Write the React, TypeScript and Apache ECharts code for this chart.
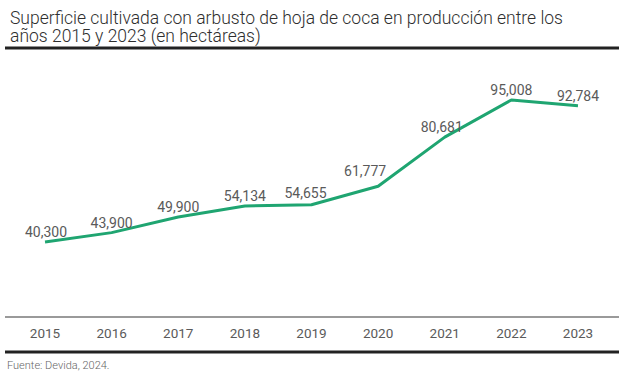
import React, { useEffect, useRef } from "react";
import * as echarts from "echarts";

const years = ["2015", "2016", "2017", "2018", "2019", "2020", "2021", "2022", "2023"];
const hectares = [40300, 43900, 49900, 54134, 54655, 61777, 80681, 95008, 92784];
const titleText = "Superficie cultivada con arbusto de hoja de coca en producción entre los\naños 2015 y 2023 (en hectáreas)";
const sourceText = "Fuente: Devida, 2024.";
// label nudges (px) so values sit clear of the line, as in the reference
const labelNudges: [number, number][] = [
  [1, 0], [0, 0], [0, 0], [0, 0], [-6, -2], [-13, -5], [-3, 0], [0, 0], [0, 0],
];

const FONT = "Roboto, 'Noto Sans', sans-serif";

export default function App() {
  const ref = useRef<HTMLDivElement>(null);
  useEffect(() => {
    if (!ref.current) return;
    const chart = echarts.init(ref.current, undefined, { renderer: "svg" });
    chart.setOption({
      animation: false,
      backgroundColor: "#ffffff",
      title: {
        text: titleText,
        left: 5,
        top: 4,
        textStyle: { fontFamily: FONT, fontSize: 17.5, fontWeight: 300, color: "#2e2e2e", lineHeight: 18 },
      },
      grid: { left: 11.7, right: 11.7, top: 87, bottom: 54.4, containLabel: false, outerBoundsMode: "none" },
      xAxis: {
        type: "category",
        data: years,
        boundaryGap: true,
        axisLine: { show: false },
        axisTick: { show: false },
        axisLabel: { margin: 5, fontFamily: FONT, fontSize: 13.5, fontWeight: "normal", color: "#5a5a5a" },
      },
      yAxis: {
        type: "value",
        min: 10000,
        max: 100000,
        show: false,
        splitLine: { show: false },
      },
      series: [
        {
          type: "line",
          data: hectares.map((v, i) => ({ value: v, label: { offset: labelNudges[i] } })),
          symbol: "circle",
          symbolSize: 0,
          showSymbol: true,
          lineStyle: { color: "#1fa571", width: 3 },
          itemStyle: { color: "#1fa571" },
          label: {
            show: true,
            position: "top",
            distance: 3,
            fontFamily: FONT,
            fontSize: 14,
            fontWeight: "normal",
            color: "#5a5a5a",
            formatter: (p: any) => Number(p.value).toLocaleString("en-US"),
          },
        },
      ],
      graphic: [
        { type: "rect", shape: { x: 5, y: 46.5, width: 614, height: 3 }, style: { fill: "#222222" } },
        { type: "rect", shape: { x: 5, y: 316, width: 614, height: 2 }, style: { fill: "#9a9a9a" } },
        { type: "rect", shape: { x: 5, y: 350.5, width: 614, height: 3 }, style: { fill: "#222222" } },
        {
          type: "text",
          x: 7,
          y: 365,
          style: { text: sourceText, fontFamily: FONT, fontSize: 11, fontWeight: 300, fill: "#666666", verticalAlign: "middle" },
        },
      ],
    });
    return () => chart.dispose();
  }, []);
  return (
    <div
      ref={ref}
      style={{ width: 623, height: 375, position: "absolute", left: 0, top: 0 }}
    />
  );
}
